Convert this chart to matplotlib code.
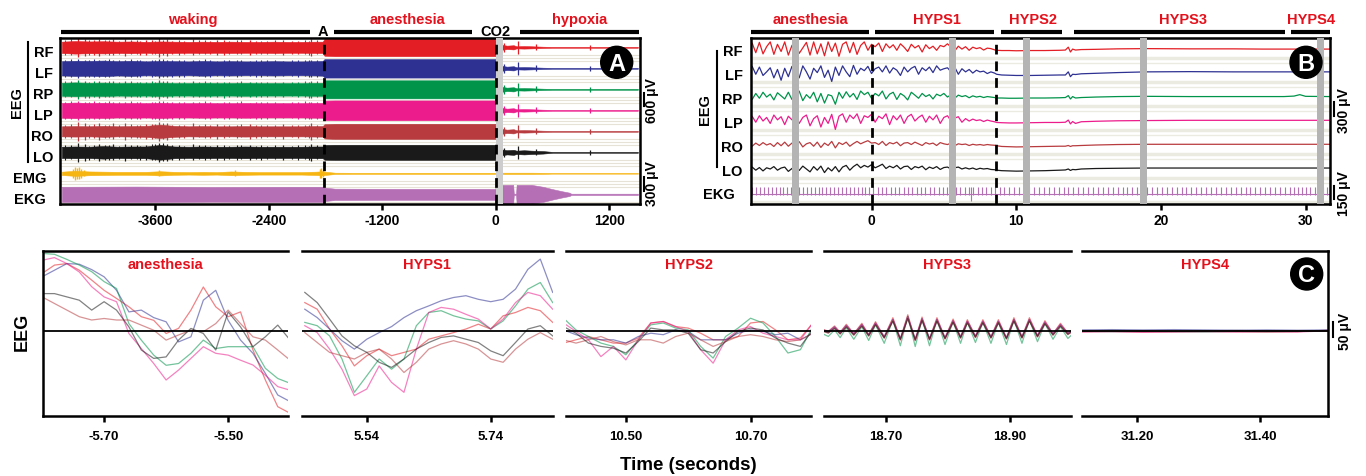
import numpy as np
import matplotlib
matplotlib.use('Agg')
import matplotlib.pyplot as plt
import matplotlib.transforms as mtransforms
from matplotlib.patches import Circle
from matplotlib.lines import Line2D

plt.rcParams['font.family'] = ['Liberation Sans', 'DejaVu Sans']
plt.rcParams['font.weight'] = 'bold'
plt.rcParams['axes.linewidth'] = 1.8

W, H = 1366, 477

# ---------------- data ----------------
ch_names = ['RF', 'LF', 'RP', 'LP', 'RO', 'LO']
ch_colors = ['#e31e24', '#2e3192', '#00934a', '#ec1c8c', '#b83c3f', '#1a1a1a']
emg_color = '#f7b512'
ekg_color = '#b56fb5'
red_label = '#e4111c'

# panel A: envelope half-widths (row units) along time (s)
a_t = [-4590, -4450, -4300, -4150, -4000, -3850, -3700, -3550, -3400, -3250,
       -3100, -2950, -2800, -2650, -2500, -2350, -2200, -2050, -1900, -1830,
       -1812, -1700, -1500, -1300, -1100, -900, -700, -500, -300, -100, -5,
       5, 60, 120, 190, 220, 300, 380, 500, 600, 700, 780, 900, 1000, 1200, 1505]
a_post = [0.03, 0.12, 0.08, 0.10, 0.05, 0.06, 0.05, 0.03, 0.02, 0.02, 0.02, 0.02, 0.02, 0.02, 0.02]
a_rf = [0.27, 0.30, 0.28, 0.29, 0.27, 0.28, 0.26, 0.28, 0.27, 0.26, 0.27, 0.26, 0.27, 0.26, 0.26, 0.27, 0.26, 0.26, 0.27, 0.27,
        0.40, 0.42, 0.42, 0.42, 0.42, 0.42, 0.42, 0.42, 0.42, 0.42, 0.42] + a_post
a_lf = [0.34, 0.36, 0.35, 0.37, 0.34, 0.36, 0.33, 0.35, 0.34, 0.33, 0.35, 0.33, 0.34, 0.33, 0.33, 0.34, 0.33, 0.33, 0.34, 0.35,
        0.44, 0.44, 0.44, 0.44, 0.44, 0.44, 0.44, 0.44, 0.44, 0.44, 0.44] + a_post
a_rp = [0.31, 0.33, 0.31, 0.32, 0.30, 0.31, 0.30, 0.32, 0.30, 0.30, 0.31, 0.30, 0.30, 0.31, 0.30, 0.30, 0.30, 0.30, 0.31, 0.31,
        0.43, 0.43, 0.43, 0.43, 0.43, 0.43, 0.43, 0.43, 0.43, 0.43, 0.43] + a_post
a_lp = [0.35, 0.37, 0.35, 0.36, 0.34, 0.35, 0.34, 0.36, 0.34, 0.34, 0.35, 0.34, 0.34, 0.35, 0.34, 0.34, 0.34, 0.34, 0.35, 0.35,
        0.46, 0.47, 0.47, 0.47, 0.47, 0.47, 0.47, 0.47, 0.47, 0.47, 0.47] + a_post
a_ro = [0.24, 0.25, 0.24, 0.26, 0.24, 0.25, 0.26, 0.32, 0.26, 0.24, 0.25, 0.24, 0.24, 0.25, 0.24, 0.24, 0.24, 0.24, 0.25, 0.25,
        0.34, 0.36, 0.36, 0.36, 0.36, 0.36, 0.36, 0.36, 0.36, 0.36, 0.36] + a_post
a_lo = [0.27, 0.28, 0.27, 0.30, 0.27, 0.28, 0.28, 0.35, 0.28, 0.27, 0.28, 0.27, 0.27, 0.28, 0.27, 0.27, 0.27, 0.27, 0.28, 0.28,
        0.35, 0.36, 0.36, 0.36, 0.36, 0.36, 0.36, 0.36, 0.36, 0.36, 0.36,
        0.04, 0.14, 0.10, 0.12, 0.08, 0.10, 0.08, 0.06, 0.02, 0.02, 0.02, 0.02, 0.02, 0.02, 0.02]
a_emg = [0.08, 0.12, 0.09, 0.08, 0.07, 0.07, 0.07, 0.10, 0.07, 0.06, 0.07, 0.06, 0.09, 0.07, 0.06, 0.06, 0.06, 0.06, 0.08, 0.10,
         0.08, 0.03, 0.025, 0.025, 0.025, 0.025, 0.025, 0.025, 0.025, 0.025, 0.025,
         0.03, 0.03, 0.03, 0.03, 0.03, 0.03, 0.03, 0.025, 0.015, 0.015, 0.015, 0.015, 0.015, 0.015, 0.015]
a_emg_spike_t = [-4470, -4450, -4430, -4410, -4390, -4360, -3560, -2760, -1860, -1845, -1830]
a_emg_spike_h = [0.22, 0.30, 0.26, 0.28, 0.20, 0.15, 0.14, 0.14, 0.20, 0.24, 0.18]
a_ekg_t = [-4590, -3800, -3000, -2200, -1830, -1812, -1700, -1000, -5, 5, 185, 192, 215, 222,
           380, 500, 600, 700, 780, 800, 1505]
a_ekg = [0.36, 0.37, 0.35, 0.36, 0.36, 0.32, 0.27, 0.26, 0.26, 0.45, 0.45, 0.03, 0.03, 0.45,
         0.45, 0.36, 0.25, 0.15, 0.08, 0.03, 0.03]
# large shared EEG transients
a_spike_t = [-4420, -4350, -4200, -4050, -3920, -3700, -3560, -3480, -3200, -2950, -2600, -2250, -1950,
             40, 90, 240, 430, 1000]
a_spike_h = [0.45, 0.40, 0.42, 0.38, 0.40, 0.36, 0.45, 0.42, 0.38, 0.36, 0.37, 0.36, 0.40,
             0.18, 0.20, 0.32, 0.14, 0.12]
# small ragged excursions beyond the waking band edge
a_rag_t = [-4560, -4490, -4300, -4250, -4130, -4090, -3990, -3860, -3800, -3760, -3640, -3600,
           -3520, -3430, -3350, -3300, -3140, -3080, -3020, -2880, -2820, -2740, -2690, -2540,
           -2480, -2420, -2330, -2150, -2090, -2020, -1980, -1890]
a_rag_h = [0.06, 0.09, 0.05, 0.08, 0.04, 0.07, 0.05, 0.08, 0.06, 0.04, 0.07, 0.05,
           0.09, 0.05, 0.07, 0.04, 0.06, 0.08, 0.05, 0.07, 0.04, 0.06, 0.08, 0.05,
           0.06, 0.04, 0.07, 0.05, 0.06, 0.08, 0.05, 0.07]

# panel B: traces (row units) along time (s)
b_t = [-8.37, -8.25, -8.0, -7.75, -7.5, -7.25, -7.0, -6.75, -6.5, -6.25,
       -6.0, -5.75, -5.5, -5.25, -5.0, -4.75, -4.5, -4.25, -4.0, -3.75,
       -3.5, -3.25, -3.0, -2.75, -2.5, -2.25, -2.0, -1.75, -1.5, -1.25,
       -1.0, -0.75, -0.5, -0.25, 0.0, 0.25, 0.5, 0.75, 1.0, 1.25,
       1.5, 1.75, 2.0, 2.25, 2.5, 2.75, 3.0, 3.25, 3.5, 3.75,
       4.0, 4.25, 4.5, 4.75, 5.0, 5.25, 5.5, 5.75, 6.0, 6.25,
       6.5, 6.75, 7.0, 7.25, 7.5, 7.75, 8.0, 8.25, 8.5, 8.65,
       9.0, 9.5, 10.0, 11.0, 12.0, 13.0, 13.4, 13.6, 13.75, 13.9, 14.1, 14.5,
       15.5, 17.0, 19.0, 22.0, 25.0, 27.0, 28.5, 29.2, 29.6, 30.0, 31.69]
b_rf = [0.05, 0.25, -0.15, 0.28, -0.2, 0.1, 0.3, -0.22, 0.2, -0.1,
        0.3, -0.25, 0.15, 0.32, -0.18, 0.05, 0.28, -0.25, 0.3, -0.2,
        0.22, -0.28, 0.3, -0.1, 0.25, -0.3, 0.2, 0.3, -0.15, 0.28,
        -0.22, 0.15, 0.3, -0.05, 0.2, 0.1, 0.25, -0.1, 0.22, 0.05,
        0.18, -0.05, 0.22, 0.08, -0.1, 0.2, 0.05, 0.15, -0.12, 0.18,
        0.02, 0.12, -0.05, 0.15, 0.1, 0.22, 0.08, -0.08, 0.12, 0.0,
        0.1, -0.05, 0.08, 0.02, 0.06, -0.04, 0.04, 0.02, -0.03, -0.05,
        -0.06, -0.06, -0.07, -0.06, -0.06, -0.05, -0.04, 0.08, -0.12, 0.0, -0.04, -0.02,
        -0.01, 0.01, 0.02, 0.01, 0.01, 0.0, 0.0, 0.0, 0.0, 0.0, 0.0]
b_lf = [0.1, 0.28, -0.05, 0.25, -0.1, 0.05, 0.22, -0.2, 0.15, -0.3,
        0.2, -0.15, 0.28, 0.1, -0.2, 0.3, 0.05, -0.25, 0.2, 0.02,
        0.3, -0.18, 0.12, -0.35, 0.25, -0.1, 0.3, 0.05, -0.15, 0.32,
        -0.05, 0.2, 0.1, 0.28, -0.02, 0.18, 0.25, 0.05, 0.3, 0.0,
        0.22, 0.12, -0.1, 0.25, 0.05, 0.2, 0.28, -0.05, 0.22, 0.1,
        0.25, 0.02, 0.3, 0.12, 0.18, 0.22, 0.05, 0.25, -0.05, 0.18,
        0.05, 0.15, 0.0, 0.12, 0.05, 0.08, -0.02, 0.05, 0.0, -0.05,
        -0.08, -0.09, -0.1, -0.1, -0.09, -0.08, -0.08, 0.05, -0.15, -0.05, -0.06, -0.03,
        -0.01, 0.02, 0.05, 0.06, 0.05, 0.05, 0.05, 0.05, 0.05, 0.05, 0.05]
b_rp = [0.05, -0.1, 0.15, -0.05, 0.2, 0.0, 0.12, -0.12, 0.18, 0.05,
        -0.08, 0.2, -0.1, 0.15, 0.25, -0.15, 0.1, -0.05, 0.2, -0.2,
        0.15, -0.25, 0.1, 0.05, -0.3, 0.2, -0.05, 0.22, 0.0, 0.15,
        -0.1, 0.25, 0.1, 0.2, -0.05, 0.15, 0.05, 0.25, -0.08, 0.12,
        0.2, -0.1, 0.15, 0.05, -0.12, 0.2, 0.08, -0.05, 0.15, 0.02,
        0.1, -0.08, 0.12, 0.05, 0.15, 0.0, 0.1, -0.05, 0.08, 0.02,
        0.06, -0.03, 0.05, 0.0, 0.03, -0.02, 0.02, 0.0, -0.02, -0.04,
        -0.04, -0.05, -0.05, -0.04, -0.04, -0.03, -0.02, 0.06, -0.08, 0.02, -0.04, -0.02,
        0.0, 0.02, 0.03, 0.02, 0.02, 0.02, 0.02, 0.04, 0.1, 0.03, 0.02]
b_lp = [0.05, 0.2, -0.05, 0.22, 0.0, 0.15, -0.1, 0.25, 0.05, 0.18,
        -0.15, 0.2, 0.05, 0.28, -0.1, 0.15, 0.25, -0.2, 0.1, 0.22,
        -0.25, 0.15, -0.1, 0.28, -0.35, 0.2, 0.3, -0.05, 0.25, 0.1,
        0.3, -0.1, 0.22, 0.15, 0.28, -0.05, 0.2, 0.1, 0.3, -0.15,
        0.22, 0.05, 0.25, -0.1, 0.18, 0.28, 0.0, 0.15, 0.25, -0.05,
        0.2, 0.05, 0.25, -0.1, 0.15, 0.22, 0.0, 0.12, 0.18, -0.05,
        0.1, 0.0, 0.08, 0.02, 0.05, -0.02, 0.04, 0.0, -0.03, -0.06,
        -0.07, -0.08, -0.08, -0.07, -0.06, -0.06, -0.05, 0.04, -0.12, -0.02, -0.1, -0.03,
        -0.01, 0.01, 0.02, 0.03, 0.03, 0.03, 0.03, 0.03, 0.03, 0.03, 0.03]
b_ro = [0.02, -0.05, 0.08, -0.02, 0.1, 0.0, 0.06, -0.06, 0.1, -0.03,
        0.12, -0.05, 0.08, 0.0, 0.14, -0.08, 0.05, 0.1, -0.05, 0.12,
        -0.1, 0.08, -0.02, 0.15, -0.12, 0.1, 0.02, 0.12, -0.05, 0.06,
        0.15, 0.05, 0.12, 0.18, 0.08, 0.1, 0.02, 0.15, -0.02, 0.1,
        0.05, 0.12, -0.03, 0.08, 0.1, 0.02, 0.12, 0.05, -0.02, 0.1,
        0.04, 0.08, -0.02, 0.1, 0.05, 0.02, 0.08, -0.03, 0.05, 0.02,
        0.04, -0.02, 0.03, 0.0, 0.02, -0.01, 0.02, 0.0, -0.01, -0.03,
        -0.06, -0.07, -0.08, -0.07, -0.06, -0.05, -0.05, -0.02, -0.06, -0.03, -0.03, -0.02,
        0.0, 0.02, 0.03, 0.03, 0.03, 0.03, 0.03, 0.03, 0.03, 0.03, 0.03]
b_lo = [0.0, 0.08, -0.05, 0.06, -0.08, 0.05, 0.0, 0.1, -0.05, 0.04,
        0.08, -0.1, 0.02, 0.1, -0.06, 0.12, 0.0, -0.12, 0.1, -0.05,
        0.12, -0.15, 0.05, -0.08, 0.1, -0.12, 0.08, 0.15, -0.05, 0.1,
        0.2, 0.05, 0.15, 0.08, 0.18, 0.05, 0.12, 0.2, 0.02, 0.12,
        0.05, 0.15, 0.0, 0.1, 0.12, -0.02, 0.1, 0.05, 0.12, -0.03,
        0.08, 0.02, 0.1, -0.02, 0.06, 0.08, 0.0, 0.05, 0.08, 0.0,
        0.05, 0.0, 0.04, -0.02, 0.03, 0.0, 0.02, -0.02, -0.03, -0.05,
        -0.07, -0.08, -0.09, -0.08, -0.07, -0.05, -0.04, 0.0, -0.06, -0.02, -0.03, 0.0,
        0.02, 0.03, 0.04, 0.04, 0.04, 0.04, 0.04, 0.04, 0.04, 0.04, 0.04]
b_ekg_beats = [-8.25, -7.98, -7.71, -7.44, -7.17, -6.9, -6.63, -6.36, -6.09, -5.82, -5.55, -5.28,
               -5.01, -4.74, -4.47, -4.2, -3.93, -3.66, -3.39, -3.12, -2.85, -2.58, -2.31, -2.04,
               -1.77, -1.5, -1.23, -0.96, -0.69, -0.42, -0.15,
               0.13, 0.43, 0.73, 1.03, 1.33, 1.63, 1.93, 2.23, 2.53, 2.83, 3.13, 3.43, 3.73, 4.03,
               4.33, 4.63, 4.93, 5.23, 5.53, 5.83, 6.13, 6.43, 6.73, 7.03, 7.33, 7.63, 7.93, 8.23, 8.53,
               8.85, 9.19, 9.53, 9.87, 10.21, 10.55, 10.89, 11.23, 11.57, 11.91, 12.25, 12.59, 12.93,
               13.27, 13.61, 13.95, 14.29, 14.63, 14.97, 15.31, 15.65, 15.99, 16.33, 16.67, 17.01,
               17.35, 17.69, 18.03, 18.37, 18.71, 19.05, 19.39, 19.73, 20.07, 20.41, 20.75, 21.09,
               21.43, 21.77, 22.11, 22.45, 22.79, 23.13, 23.47, 23.81, 24.15, 24.49, 24.83, 25.17,
               25.51, 25.85, 26.19, 26.53, 26.87, 27.21, 27.55, 27.89, 28.23, 28.57, 28.91, 29.22,
               29.5, 29.78, 30.06, 30.34, 30.62, 30.9, 31.18, 31.46]
b_ekg_height = 0.24
b_ekg_artifact_t = [6.9]
b_ekg_artifact_h = [-0.32]
b_gray = [(-5.47, -5.01), (5.38, 5.82), (10.49, 10.92), (18.55, 19.02), (30.8, 31.27)]
b_dashed = [0.0, 8.6]
a_dashed = [-1817, 0]
a_gray = (0, 75)

# panel C: zoomed EEG (uV)
c_titles = ['anesthesia', 'HYPS1', 'HYPS2', 'HYPS3', 'HYPS4']
c_xlims = [(-5.799, -5.403), (5.435, 5.84), (10.404, 10.797), (18.60, 18.998), (31.111, 31.51)]
c_ticks = [[-5.70, -5.50], [5.54, 5.74], [10.50, 10.70], [18.70, 18.90], [31.20, 31.40]]
c_ticklabels = [['-5.70', '-5.50'], ['5.54', '5.74'], ['10.50', '10.70'], ['18.70', '18.90'], ['31.20', '31.40']]

c1_t = [-5.80, -5.78, -5.76, -5.74, -5.72, -5.70, -5.68, -5.66, -5.64, -5.62, -5.60,
        -5.58, -5.56, -5.54, -5.52, -5.50, -5.48, -5.46, -5.44, -5.42, -5.40]
c1 = [
    [191, 219, 224, 202, 169, 135, 108, 80, 47, 35, -9, 8, 69, 146, 80, 47, 63, -64, -164, -253, -275],
    [180, 202, 224, 222, 204, 180, 135, 63, 69, 44, 30, -37, -20, 102, 135, 35, -31, -75, -142, -214, -236],
    [258, 255, 238, 219, 197, 164, 141, 24, -31, -81, -115, -109, -75, -31, -59, -53, -53, -53, -125, -159, -175],
    [235, 244, 224, 196, 147, 113, 97, -9, -59, -109, -164, -131, -92, -53, -75, -81, -98, -114, -148, -186, -198],
    [113, 91, 69, 47, 36, 41, 36, 36, 19, 2, -31, -14, 2, -3, 24, 69, 24, -20, -31, -64, -98],
    [124, 124, 113, 102, 69, 97, 69, 13, -64, -92, -87, -31, 8, -9, -64, 63, 13, -53, -20, 19, -31],
]
c2_t = [5.44, 5.46, 5.48, 5.50, 5.52, 5.54, 5.56, 5.58, 5.60, 5.62, 5.64,
        5.66, 5.68, 5.70, 5.72, 5.74, 5.76, 5.78, 5.80, 5.82, 5.84]
c2 = [
    [94, 72, 6, -50, -117, -83, -61, -83, -72, -61, -28, -17, -6, 6, 22, 6, 50, 61, 78, 67, 28],
    [72, 44, 6, -33, -61, -28, -6, 14, 44, 67, 83, 100, 111, 117, 105, 97, 105, 139, 205, 239, 128],
    [28, 17, -17, -94, -205, -150, -94, -128, -94, 17, 61, 67, 50, 39, 33, 6, 33, 83, 139, 161, 94],
    [17, -6, -61, -128, -216, -194, -117, -172, -205, -61, 61, 78, 72, 55, 39, 6, 39, 94, 128, 117, 72],
    [-6, -39, -72, -83, -94, -72, -61, -94, -139, -105, -61, -44, -33, -44, -61, -94, -105, -61, -28, -6, -28],
    [128, 94, 39, -17, -50, -72, -105, -122, -94, -61, -39, -22, -17, -28, -39, -67, -83, -39, 6, 17, -17],
]
c3_t = [10.40, 10.42, 10.44, 10.46, 10.48, 10.50, 10.52, 10.54, 10.56, 10.58, 10.60,
        10.62, 10.64, 10.66, 10.68, 10.70, 10.72, 10.74, 10.76, 10.78, 10.80]
c3 = [
    [-41, -30, -19, -30, -41, -41, -24, 26, 31, 14, 9, -8, -30, -30, -19, 26, 31, 3, -30, -24, 26],
    [3, -13, -24, -30, -30, -41, -19, -8, -13, 3, -2, -30, -30, -30, -8, 3, -2, -13, -8, -30, -8],
    [42, 3, -19, -41, -52, -80, -30, 20, 26, 9, 3, -52, -91, -19, 9, 42, 26, -19, -74, -63, 14],
    [26, -2, -30, -86, -52, -97, -30, 26, 31, 14, -2, -63, -108, -30, 3, 14, -8, -19, -30, -30, 26],
    [-30, -41, -30, -19, -36, -47, -30, -30, -41, -19, -8, -30, -52, -36, -19, -13, -19, -30, -36, -30, -8],
    [14, -8, -41, -52, -58, -74, -36, 9, 3, 3, -8, -63, -74, -36, -2, 9, 3, -24, -41, -52, 3],
]
c4_t = [18.600, 18.607, 18.617, 18.626, 18.636, 18.648, 18.661, 18.672, 18.683, 18.697,
        18.711, 18.723, 18.735, 18.747, 18.758, 18.770, 18.782, 18.795, 18.808, 18.820,
        18.831, 18.844, 18.856, 18.869, 18.881, 18.894, 18.906, 18.919, 18.931, 18.944,
        18.956, 18.969, 18.981, 18.993, 19.000]
c4_wave = [0, -5, 11, -8, 16, -12, 19, -15, 24, -22, 36, -28, 45, -30, 38, -28, 36, -25, 32, -22,
           30, -20, 30, -22, 30, -25, 36, -22, 36, -18, 27, -12, 19, -10, 0]
c4_gain = [1.10, 1.00, 1.35, 1.05, 1.00, 0.95]
c4_offset = [4, 2, -12, 0, -3, -2]
c5_t = [31.11, 31.16, 31.21, 31.26, 31.31, 31.36, 31.41, 31.46, 31.51]
c5 = [
    [-3, -2, -4, -3, -2, -3, -4, -3, 2],
    [3, 4, 3, 4, 3, 2, 3, 2, 3],
    [-2, -3, -2, -3, -4, -2, -3, -2, -1],
    [-4, -3, -5, -4, -3, -4, -3, -4, 0],
    [-1, -2, -1, -2, -1, -2, -1, -2, -1],
    [0, 1, 0, -1, 0, 1, 0, 0, 1],
]

# ---------------- figure ----------------
fig = plt.figure(figsize=(W / 100, H / 100), dpi=100)


def fx(x):
    return x / W


def fy(y):
    return 1 - y / H


def fig_vline(x, y0, y1, lw=1.5):
    fig.add_artist(Line2D([fx(x), fx(x)], [fy(y0), fy(y1)], color='black', lw=lw))


def badge(x, y, letter):
    fig.add_artist(Circle((x / 100, (H - y) / 100), 0.16, transform=fig.dpi_scale_trans,
                          color='black'))
    fig.text(fx(x), fy(y + 1), letter, color='white', fontsize=17, ha='center', va='center')


def scale_bar(xbar, ytop, ybot, xtext, ytext, label):
    fig_vline(xbar, ytop, ybot, lw=1.5)
    fig.text(fx(xtext), fy(ytext), label, rotation=90, fontsize=10, ha='center', va='center')


def top_bars(ax, segments, y=1.04):
    tr = ax.get_xaxis_transform()
    for x0, x1 in segments:
        ax.plot([x0, x1], [y, y], color='black', lw=3, transform=tr, clip_on=False,
                solid_capstyle='butt')


def top_text(ax, items, y, color):
    tr = ax.get_xaxis_transform()
    for x, s in items:
        ax.text(x, y, s, color=color, fontsize=10.5, ha='center', va='center', transform=tr)


# ---- panel A ----
axA = fig.add_axes([fx(60), fy(205), 580 / W, 165.7 / H])
axA.set_xlim(-4610, 1527)
axA.set_ylim(-7.46, 0.43)
for k in range(8):
    for off in (0.35, 0.5, 0.65):
        axA.axhline(-k - off, color='#e6e2d6', lw=0.8, zorder=0)
a_widths = [a_rf, a_lf, a_rp, a_lp, a_ro, a_lo]
rag_h = np.array(a_rag_h)
for k, (w, c) in enumerate(zip(a_widths, ch_colors)):
    w = np.array(w)
    axA.fill_between(a_t, -k - w, -k + w, color=c, lw=0.4, zorder=2)
    h = np.array(a_spike_h)
    axA.vlines(a_spike_t, -k - h, -k + h, color=c, lw=0.9, zorder=2)
    edge = np.interp(a_rag_t, a_t, w)
    up = edge + rag_h
    dn = edge + rag_h[::-1]
    axA.vlines(a_rag_t, -k - dn, -k + up, color=c, lw=0.8, zorder=2)
w = np.array(a_emg)
axA.fill_between(a_t, -6 - w, -6 + w, color=emg_color, lw=0.4, zorder=2)
h = np.array(a_emg_spike_h)
axA.vlines(a_emg_spike_t, -6 - h, -6 + h, color=emg_color, lw=1.0, zorder=2)
w = np.array(a_ekg)
axA.fill_between(a_ekg_t, -7 - w, -7 + w, color=ekg_color, lw=0.4, zorder=2)
axA.axvspan(a_gray[0], a_gray[1], color='#cdcdcd', zorder=4, lw=0)
for x in a_dashed:
    axA.axvline(x, color='black', lw=2, ls=(0, (3.5, 2.5)), zorder=5)
axA.set_yticks([])
axA.set_xticks([-3600, -2400, -1200, 0, 1200])
axA.set_xticklabels(['-3600', '-2400', '-1200', '0', '1200'])
axA.tick_params(axis='x', length=4.5, width=1.8, pad=2, labelsize=10)
top_bars(axA, [(-4600, -1963), (-1708, -254), (257, 1517)], y=1.04)
top_text(axA, [(-3207, 'waking'), (-935, 'anesthesia'), (885, 'hypoxia')], 1.116, red_label)
top_text(axA, [(-1831, 'A'), (0, 'CO2')], 1.045, 'black')
trA = mtransforms.blended_transform_factory(axA.transAxes, axA.transData)
for k, n in enumerate(ch_names):
    axA.text(-0.012, -k - 0.2, n, transform=trA, ha='right', va='center', fontsize=10.5)
axA.text(-0.024, -6 - 0.2, 'EMG', transform=trA, ha='right', va='center', fontsize=10.5)
axA.text(-0.024, -7 - 0.2, 'EKG', transform=trA, ha='right', va='center', fontsize=10.5)
fig.text(fx(17), fy(103), 'EEG', rotation=90, ha='center', va='center', fontsize=10.5)
fig_vline(27.7, 43, 163)
badge(616.7, 63.3, 'A')
scale_bar(644.3, 94, 107, 652, 101, '600 μV')
scale_bar(644.3, 178, 192, 652, 184, '300 μV')

# ---- panel B ----
axB = fig.add_axes([fx(751), fy(205), 579 / W, 165.7 / H])
axB.set_xlim(-8.33, 31.69)
axB.set_ylim(-6.46, 0.45)
for k in range(7):
    axB.axhline(-k - 0.38, color='#ecebe2', lw=2.5, zorder=0)
    axB.axhline(-k - 0.58, color='#ecebe2', lw=1.0, zorder=0)
b_traces = [b_rf, b_lf, b_rp, b_lp, b_ro, b_lo]
for k, (v, c) in enumerate(zip(b_traces, ch_colors)):
    axB.plot(b_t, -k + np.array(v), color=c, lw=0.9, zorder=2)
axB.axhline(-6 - 0.05, color=ekg_color, lw=0.8, zorder=2)
axB.vlines(b_ekg_beats, -6 - 0.1, -6 + b_ekg_height, color=ekg_color, lw=0.8, zorder=2)
axB.vlines(b_ekg_artifact_t, -6 + np.array(b_ekg_artifact_h), -6 + b_ekg_height,
           color=ekg_color, lw=0.8, zorder=2)
for x0, x1 in b_gray:
    axB.axvspan(x0, x1, color='#b4b4b4', zorder=3, lw=0)
for x in b_dashed:
    axB.axvline(x, color='black', lw=2, ls=(0, (3.5, 2.5)), zorder=5)
axB.set_yticks([])
axB.set_xticks([0, 10, 20, 30])
axB.tick_params(axis='x', length=4.5, width=1.8, pad=2, labelsize=10)
top_bars(axB, [(-8.33, -0.17), (0.24, 8.49), (8.93, 13.14), (14.02, 28.58), (29.0, 31.69)], y=1.036)
top_text(axB, [(-4.2, 'anesthesia'), (4.5, 'HYPS1'), (11.16, 'HYPS2'), (21.5, 'HYPS3'),
               (30.35, 'HYPS4')], 1.117, red_label)
trB = mtransforms.blended_transform_factory(axB.transAxes, axB.transData)
for k, n in enumerate(ch_names):
    axB.text(-0.0143, -k - 0.07, n, transform=trB, ha='right', va='center', fontsize=10.5)
axB.text(-0.0276, -6 - 0.03, 'EKG', transform=trB, ha='right', va='center', fontsize=10.5)
fig.text(fx(705), fy(110), 'EEG', rotation=90, ha='center', va='center', fontsize=10.5)
fig_vline(716.7, 52, 168)
badge(1306, 63.3, 'B')
scale_bar(1334, 103, 117, 1344, 110.5, '300 μV')
scale_bar(1334, 187, 200, 1344, 193.5, '150 μV')

# ---- panel C ----
c_pix = [(42.7, 288.3), (301.7, 552.7), (566, 811), (824, 1071), (1082, 1328.3)]
c_times = [c1_t, c2_t, c3_t, c4_t, c5_t]
c_data = [c1, c2, c3,
          [list(g * np.array(c4_wave) + o) for g, o in zip(c4_gain, c4_offset)],
          c5]
for i, (x0, x1) in enumerate(c_pix):
    ax = fig.add_axes([fx(x0), fy(416.7), (x1 - x0) / W, 165 / H])
    ax.set_xlim(*c_xlims[i])
    ax.set_ylim(-283, 267)
    for v, c in zip(c_data[i], ch_colors):
        ax.plot(c_times[i], v, color=c, lw=0.9, alpha=0.55, zorder=2,
                solid_joinstyle='round')
    ax.axhline(0, color='black', lw=1.3, zorder=3)
    ax.set_yticks([])
    ax.set_xticks(c_ticks[i])
    ax.set_xticklabels(c_ticklabels[i])
    ax.tick_params(axis='x', length=4, width=1.8, pad=6, labelsize=9.5)
    ax.spines['left'].set_visible(i == 0)
    ax.spines['right'].set_visible(i == len(c_pix) - 1)
    ax.text(0.5, 0.92, c_titles[i], color=red_label, fontsize=10.5, ha='center', va='center',
            transform=ax.transAxes)
fig.text(fx(22), fy(332), 'EEG', rotation=90, ha='center', va='center', fontsize=13)
fig.text(fx(688), fy(466), 'Time (seconds)', ha='center', va='center', fontsize=13.5)
badge(1306.7, 275, 'C')
scale_bar(1333, 323, 338, 1345, 331.7, '50 μV')

fig.savefig('out.png', dpi=100)
